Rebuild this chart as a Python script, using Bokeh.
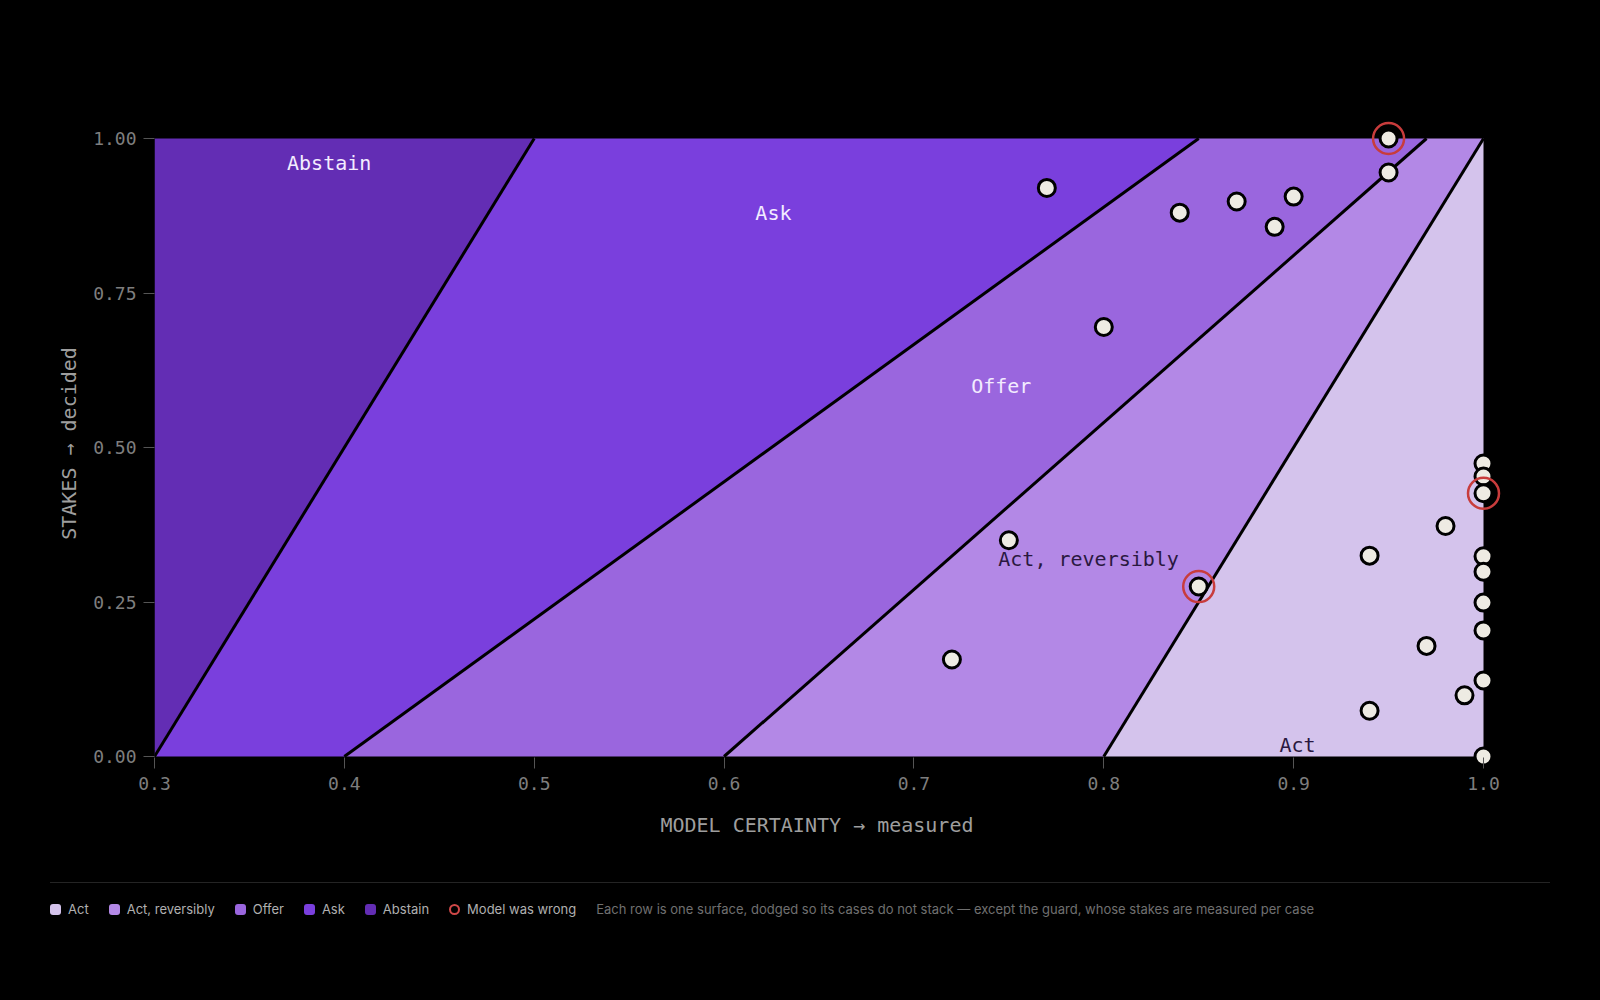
import numpy as np
from bokeh.plotting import figure
from bokeh.models import Range1d, FixedTicker, NumeralTickFormatter, ColumnDataSource, Div
from bokeh.layouts import column
from bokeh.core.properties import value
from bokeh.embed import file_html
from bokeh.resources import INLINE

MONO = "DejaVu Sans Mono"

# decision surfaces: boundary x at stakes=0 and stakes=1
edge_bottom = [0.3, 0.4, 0.6, 0.8]
edge_top = [0.5, 0.85, 0.97, 1.0]
region_names = ["Abstain", "Ask", "Offer", "Act, reversibly", "Act"]
region_colors = ["#632db4", "#7a3fdd", "#9a66de", "#b388e6", "#d4c3ec"]
label_x = [0.392, 0.626, 0.746, 0.792, 0.902]
label_y = [0.96, 0.88, 0.60, 0.32, 0.018]
label_colors = ["#f3ecff", "#f3ecff", "#f3ecff", "#2a1840", "#2a1840"]

# cases
case_x = [0.95, 0.95, 0.77, 0.84, 0.87, 0.90, 0.89, 0.80, 0.75, 0.85, 0.72,
          0.94, 0.98, 0.97, 0.94, 0.99,
          1.0, 1.0, 1.0, 1.0, 1.0, 1.0, 1.0, 1.0, 1.0]
case_y = [1.00, 0.945, 0.92, 0.88, 0.898, 0.906, 0.857, 0.695, 0.35, 0.275, 0.157,
          0.325, 0.373, 0.179, 0.074, 0.099,
          0.474, 0.453, 0.426, 0.324, 0.299, 0.249, 0.204, 0.123, 0.0]
case_wrong = [True, False, False, False, False, False, False, False, False, True, False,
              False, False, False, False, False,
              False, False, True, False, False, False, False, False, False]

x_min, x_max = 0.3, 1.0
b = [x_min] + edge_bottom + [x_max]
t = [x_min] + edge_top + [x_max]
region_xs = [[b[i], t[i], t[i + 1], b[i + 1]] for i in range(len(region_names))]
region_ys = [[0, 1, 1, 0] for _ in region_names]

px_x = 1329 / 0.7
px_y = 618.0

# a little room right/top/bottom so edge cases and rings are not clipped
p = figure(width=1600, height=858,
           x_range=Range1d(x_min, x_max + 20 / px_x),
           y_range=Range1d(-12 / px_y, 1 + 20 / px_y),
           output_backend="svg", toolbar_location=None,
           background_fill_color="black", border_fill_color="black",
           min_border_left=154, min_border_right=97,
           min_border_top=118, min_border_bottom=90)
p.outline_line_color = None
p.grid.visible = False

p.patches(region_xs, region_ys, fill_color=region_colors, line_color=None)
p.segment(x0=edge_bottom, y0=[0] * 4, x1=edge_top, y1=[1] * 4,
          line_color="black", line_width=3)

p.text(label_x, label_y, text=region_names, text_color=label_colors,
       text_font=value(MONO), text_font_size="20px",
       text_align="center", text_baseline="middle")

src = ColumnDataSource(dict(x=case_x, y=case_y))
p.scatter("x", "y", source=src, size=17, fill_color="#eeebe3",
          line_color="black", line_width=3)
wx = [x for x, w in zip(case_x, case_wrong) if w]
wy = [y for y, w in zip(case_y, case_wrong) if w]
p.scatter(wx, wy, size=31, fill_color=None, line_color="#c83c3c", line_width=2.5)

for ax in (p.xaxis[0], p.yaxis[0]):
    ax.axis_line_color = None
    ax.major_tick_line_color = "#555555"
    ax.major_tick_line_width = 1
    ax.minor_tick_line_color = None
    ax.major_label_text_font = MONO
    ax.major_label_text_font_size = "18px"
    ax.major_label_text_color = "#7e7e7e"
    ax.axis_label_text_font = MONO
    ax.axis_label_text_font_size = "20px"
    ax.axis_label_text_font_style = "normal"
    ax.axis_label_text_color = "#9e9e9e"

p.xaxis.ticker = FixedTicker(ticks=[0.3, 0.4, 0.5, 0.6, 0.7, 0.8, 0.9, 1.0])
p.xaxis.formatter = NumeralTickFormatter(format="0.0")
# trailing no-break spaces keep the title centred on 0.3-1.0 rather than the padded frame
p.xaxis.axis_label = "MODEL CERTAINTY \u2192 measured\u00a0\u00a0"
p.xaxis.major_tick_in = 11
p.xaxis.major_tick_out = 0
p.xaxis.major_label_standoff = 8
p.xaxis.axis_label_standoff = 20

p.yaxis.ticker = FixedTicker(ticks=[0.0, 0.25, 0.5, 0.75, 1.0])
p.yaxis.formatter = NumeralTickFormatter(format="0.00")
p.yaxis.axis_label = "STAKES \u2192 decided"
p.yaxis.major_tick_in = 0
p.yaxis.major_tick_out = 11
p.yaxis.major_label_standoff = 7
p.yaxis.axis_label_standoff = 9

legend_items = ""
for name, col in zip(reversed(region_names), reversed(region_colors)):
    legend_items += (
        '<span style="display:inline-flex;align-items:center;margin-right:20px;">'
        f'<span style="width:11px;height:11px;border-radius:3px;background:{col};'
        'margin-right:7px;display:inline-block;"></span>'
        f'{name}</span>')
legend_items += (
    '<span style="display:inline-flex;align-items:center;margin-right:20px;">'
    '<span style="box-sizing:border-box;width:11px;height:11px;border-radius:50%;'
    'border:2px solid #d04848;margin-right:7px;display:inline-block;"></span>'
    'Model was wrong</span>')
legend_items += ('<span style="color:#707070;">Each row is one surface, dodged so its cases '
                 'do not stack \u2014 except the guard, whose stakes are measured per case</span>')

footer = Div(width=1600, height=100, styles={"background": "#000000"}, text=(
    '<div style="margin:19px 0 0 45px;width:1500px;border-top:1px solid #242424;'
    'padding-top:17px;display:flex;align-items:center;font-family:Inter,sans-serif;'
    f'font-size:13px;color:#b0b0b0;white-space:nowrap;">{legend_items}</div>'))

layout = column(p, footer, spacing=0)
html = file_html(layout, INLINE, title="Decision surfaces")
html = html.replace("</head>",
                    "<style>html,body{background:#000000 !important;}</style></head>", 1)
open("out.html", "w").write(html)
